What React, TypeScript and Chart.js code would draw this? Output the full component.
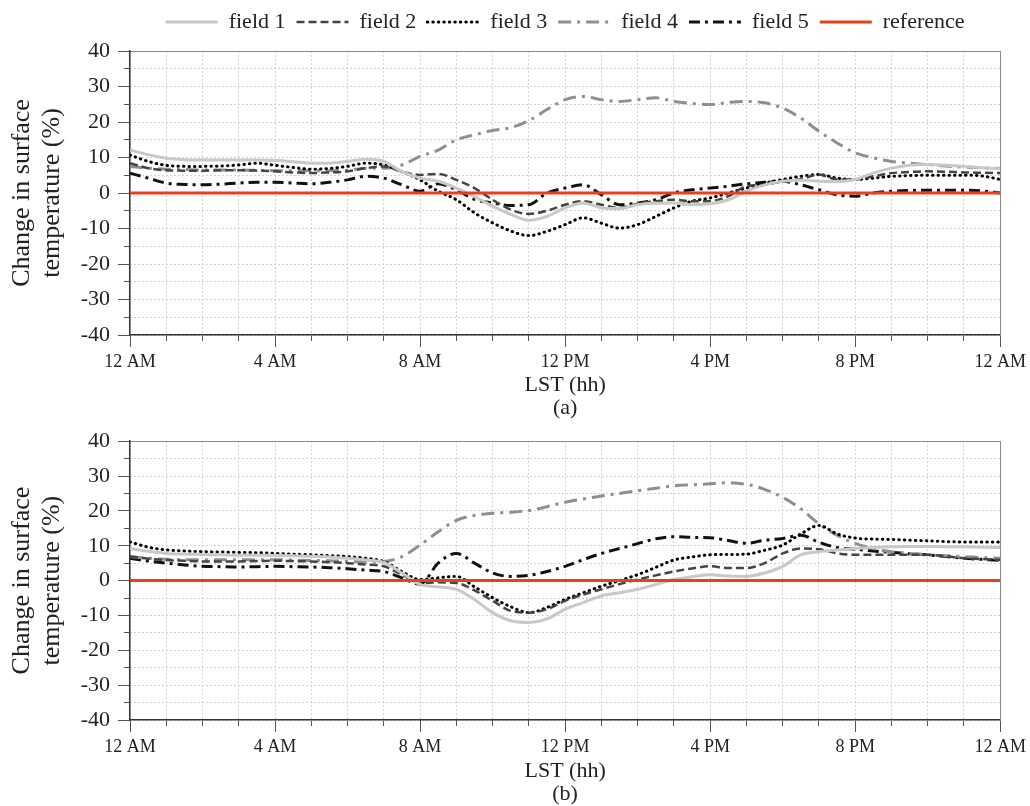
import React, { useEffect, useRef } from 'react';
import { Chart, registerables } from 'chart.js';

Chart.register(...registerables);

const FONT = "'Liberation Serif', 'Times New Roman', serif";

const hours = [0, 0.5, 1, 1.5, 2, 2.5, 3, 3.5, 4, 4.5, 5, 5.5, 6, 6.5, 7, 7.5, 8, 8.5, 9, 9.5, 10, 10.5, 11, 11.5, 12, 12.5, 13, 13.5, 14, 14.5, 15, 15.5, 16, 16.5, 17, 17.5, 18, 18.5, 19, 19.5, 20, 20.5, 21, 21.5, 22, 22.5, 23, 23.5, 24];
const xTickLabels = ['12 AM', '4 AM', '8 AM', '12 PM', '4 PM', '8 PM', '12 AM'];
const seriesNames = ['field 1', 'field 2', 'field 3', 'field 4', 'field 5', 'reference'];
const panelLabels = ['(a)', '(b)'];
const xTitle = 'LST (hh)';
const yTitle = ['Change in surface', 'temperature (%)'];

// Panel (a)
const field1A = [12.1, 10.8, 9.8, 9.4, 9.3, 9.3, 9.3, 9.3, 9.2, 8.8, 8.4, 8.4, 8.9, 9.5, 8.9, 6.0, 4.2, 3.3, 1.4, -1.0, -3.7, -6.0, -7.7, -6.6, -4.2, -2.8, -4.2, -4.4, -3.3, -2.9, -2.8, -3.3, -3.0, -1.9, 0.5, 2.3, 3.3, 3.6, 3.3, 3.2, 3.8, 5.6, 7.0, 7.8, 8.0, 7.8, 7.5, 7.1, 6.8];
const field2A = [8.4, 7.0, 6.4, 6.3, 6.3, 6.4, 6.4, 6.3, 6.1, 5.8, 5.6, 5.8, 6.1, 7.0, 7.5, 6.0, 5.1, 5.4, 3.7, 1.4, -1.9, -4.7, -5.9, -5.0, -3.3, -2.3, -3.3, -4.2, -3.0, -2.3, -1.9, -2.3, -2.3, -0.9, 1.9, 2.3, 3.3, 3.9, 5.2, 3.8, 3.8, 4.7, 5.6, 5.9, 6.1, 6.0, 5.8, 5.7, 5.6];
const field3A = [10.7, 8.9, 7.8, 7.5, 7.5, 7.6, 7.9, 8.4, 7.8, 7.2, 6.7, 6.9, 7.5, 8.4, 7.9, 6.0, 3.7, 0.5, -1.9, -5.6, -8.4, -10.7, -12.0, -10.8, -8.9, -7.0, -8.5, -9.9, -8.9, -6.6, -4.2, -2.3, -1.4, 0.0, 1.4, 2.8, 3.8, 4.7, 5.2, 4.2, 3.8, 4.2, 4.7, 4.9, 5.0, 5.0, 5.0, 4.8, 3.8];
const field4A = [7.5, 7.0, 6.7, 6.6, 6.5, 6.5, 6.5, 6.4, 6.3, 6.3, 6.3, 6.3, 6.4, 7.0, 7.0, 7.9, 10.3, 12.1, 15.0, 16.4, 17.6, 18.4, 20.4, 23.5, 26.3, 27.2, 26.3, 25.8, 26.3, 26.8, 25.8, 25.2, 24.9, 25.5, 25.8, 25.4, 23.9, 21.1, 17.4, 14.1, 11.3, 9.9, 8.9, 8.4, 8.0, 7.6, 7.3, 7.1, 6.9];
const field5A = [5.6, 4.2, 2.8, 2.4, 2.3, 2.5, 2.8, 3.0, 3.0, 2.8, 2.6, 3.0, 3.7, 4.7, 4.2, 2.3, 0.5, 2.6, 0.9, -1.8, -2.8, -3.5, -3.3, 0.0, 1.4, 2.3, -0.5, -3.3, -2.8, -1.9, 0.0, 0.9, 1.4, 1.9, 2.6, 3.0, 3.3, 2.3, 0.9, -0.5, -0.9, 0.0, 0.5, 0.7, 0.8, 0.8, 0.8, 0.6, 0.0];

// Panel (b)
const field1B = [9.2, 8.4, 7.8, 7.6, 7.5, 7.4, 7.3, 7.3, 7.2, 7.1, 7.0, 6.8, 6.4, 5.9, 5.2, 2.2, -1.1, -1.8, -2.5, -5.4, -9.2, -11.5, -12.0, -11.0, -8.2, -6.3, -4.4, -3.5, -2.5, -1.1, 0.3, 1.1, 1.7, 1.3, 1.2, 2.2, 4.1, 7.4, 8.3, 8.8, 9.2, 9.5, 9.7, 9.8, 9.8, 9.7, 9.7, 9.6, 9.5];
const field2B = [6.9, 6.3, 5.9, 5.7, 5.5, 5.5, 5.5, 5.6, 5.7, 5.6, 5.5, 5.3, 5.0, 4.6, 4.1, 1.7, -0.7, -0.5, -0.7, -2.8, -5.8, -8.7, -9.2, -8.2, -5.8, -4.0, -2.5, -1.0, 0.3, 1.5, 2.6, 3.5, 4.1, 3.6, 3.6, 5.0, 7.8, 9.2, 9.0, 7.8, 7.4, 7.4, 7.4, 7.4, 7.4, 7.0, 6.4, 6.2, 5.9];
const field3B = [11.1, 9.6, 8.8, 8.5, 8.3, 8.2, 8.1, 8.0, 7.8, 7.6, 7.4, 7.2, 6.9, 6.4, 5.5, 2.6, 0.3, 0.8, 1.2, -1.8, -4.9, -7.5, -9.2, -7.7, -5.4, -3.5, -1.6, 0.0, 1.7, 3.8, 5.9, 6.8, 7.4, 7.5, 7.6, 8.7, 10.2, 13.4, 15.8, 13.4, 12.2, 11.9, 11.8, 11.6, 11.4, 11.2, 11.1, 11.1, 11.1];
const field4B = [6.9, 6.4, 6.1, 6.0, 6.0, 6.0, 6.0, 6.0, 6.0, 5.9, 5.8, 5.7, 5.5, 5.4, 5.5, 6.9, 10.2, 14.0, 17.3, 18.7, 19.3, 19.6, 20.1, 21.2, 22.5, 23.4, 24.3, 25.0, 25.8, 26.5, 27.2, 27.5, 27.8, 28.1, 27.6, 26.2, 23.9, 20.6, 16.3, 13.0, 10.7, 9.2, 8.3, 7.8, 7.4, 7.1, 6.9, 6.6, 6.4];
const field5B = [6.4, 5.6, 5.0, 4.5, 4.1, 4.0, 3.9, 4.0, 4.1, 4.0, 3.9, 3.7, 3.4, 3.0, 2.6, 0.8, -1.0, 5.0, 7.8, 5.0, 2.2, 1.2, 1.5, 2.6, 4.1, 6.0, 7.8, 9.2, 10.6, 12.0, 12.6, 12.4, 12.3, 11.5, 10.7, 11.6, 12.1, 13.0, 11.0, 9.5, 9.0, 8.5, 8.1, 7.7, 7.4, 6.9, 6.4, 6.1, 5.8];

const refHours = [0, 24];
const refValues = [0, 0];

const lineStyles = [
  { color: '#c8c8c8', width: 3, dash: [], cap: 'butt' },
  { color: '#444444', width: 2.5, dash: [8, 4], cap: 'butt' },
  { color: '#000000', width: 3, dash: [0.5, 5], cap: 'round' },
  { color: '#8f8f8f', width: 3, dash: [13, 6, 3, 6], cap: 'butt' },
  { color: '#111111', width: 3, dash: [11, 5, 3, 5], cap: 'butt' },
  { color: '#e8401c', width: 3, dash: [], cap: 'butt' },
];

const centerLegend = {
  id: 'centerLegend',
  afterLayout(chart: any) {
    const l = chart.legend;
    if (!l || !l.options.display) return;
    const d = (chart.chartArea.left + chart.chartArea.right) / 2 - (l.left + l.right) / 2;
    l.left += d;
    l.right += d;
  },
};

function legendLabels(chart: any) {
  return chart.data.datasets.map((ds: any, i: number) => ({
    text: ds.label,
    fillStyle: ds.borderColor,
    strokeStyle: ds.borderColor,
    fontColor: '#222',
    lineWidth: ds.borderWidth,
    lineDash: ds.borderDash,
    lineDashOffset: 0,
    lineCap: ds.borderCapStyle,
    lineJoin: 'miter',
    pointStyle: 'line',
    rotation: 0,
    hidden: false,
    datasetIndex: i,
  }));
}

function buildConfig(series: number[][], panel: string, showLegend: boolean, xAxisHeight: number, topAxisHeight: number, topPad: number) {
  const datasets = seriesNames.map((name, i) => {
    const xs = i === 5 ? refHours : hours;
    const ys = i === 5 ? refValues : series[i];
    const st = lineStyles[i];
    return {
      label: name,
      data: xs.map((h, k) => ({ x: h, y: ys[k] })),
      borderColor: st.color,
      backgroundColor: st.color,
      borderWidth: st.width,
      borderDash: st.dash,
      borderCapStyle: st.cap,
      pointRadius: 0,
      pointHoverRadius: 0,
      fill: false,
      cubicInterpolationMode: 'monotone',
      xAxisID: 'x',
      yAxisID: 'y',
      order: i === 5 ? -1 : i,
    };
  });
  return {
    type: 'line',
    data: { datasets },
    plugins: showLegend ? [centerLegend] : [],
    options: {
      responsive: false,
      animation: false,
      events: [],
      layout: { padding: { top: topPad, right: 27, left: 0, bottom: 0 } },
      plugins: {
        legend: {
          display: showLegend,
          position: 'top',
          labels: {
            usePointStyle: true,
            pointStyle: 'line',
            pointStyleWidth: 52,
            padding: 11,
            color: '#222',
            font: { family: FONT, size: 22 },
            generateLabels: legendLabels,
          },
        },
        tooltip: { enabled: false },
      },
      scales: {
        x: {
          type: 'linear', position: 'bottom', min: 0, max: 24, weight: 1,
          afterFit: (s: any) => { s.height = xAxisHeight; },
          ticks: {
            stepSize: 4, autoSkip: false, maxRotation: 0, padding: 4, color: '#222',
            font: { family: FONT, size: 18 },
            callback: (v: any) => xTickLabels[Math.round(Number(v) / 4)] ?? '',
          },
          grid: { drawOnChartArea: false, drawTicks: true, tickLength: 12, tickColor: '#555', tickWidth: 1 },
          border: { display: true, color: '#333', width: 1.5 },
          title: { display: true, text: [xTitle, panel], color: '#222', font: { family: FONT, size: 22, lineHeight: 1.05 }, padding: 0 },
        },
        xm: {
          type: 'linear', position: 'bottom', min: 0, max: 24, weight: 0,
          afterFit: (s: any) => { s.height = 0; },
          ticks: { display: false, stepSize: 1 },
          grid: { color: '#d2d2d2', lineWidth: 1, tickLength: 6, tickColor: '#555', tickWidth: 1 },
          border: { display: false, dash: [2, 2] },
        },
        xt: {
          type: 'linear', position: 'top', min: 0, max: 24,
          afterFit: (s: any) => { s.height = topAxisHeight; },
          ticks: { display: false },
          grid: { drawOnChartArea: false, drawTicks: false },
          border: { display: true, color: '#8a8a8a', width: 1 },
        },
        y: {
          type: 'linear', position: 'left', min: -40, max: 40, weight: 1,
          afterFit: (s: any) => { s.width = 130; },
          ticks: { stepSize: 10, padding: 8, color: '#222', font: { family: FONT, size: 22 } },
          grid: { drawOnChartArea: false, tickLength: 12, tickColor: '#555', tickWidth: 1 },
          border: { display: true, color: '#333', width: 1.5 },
          title: { display: true, text: yTitle, color: '#222', font: { family: FONT, size: 26, lineHeight: 1.15 }, padding: { top: 7, bottom: 0 } },
        },
        ym: {
          type: 'linear', position: 'left', min: -40, max: 40, weight: 0,
          afterFit: (s: any) => { s.width = 0; },
          ticks: { display: false, stepSize: 5 },
          grid: { color: '#d2d2d2', lineWidth: 1, tickLength: 6, tickColor: '#555', tickWidth: 1 },
          border: { display: false, dash: [2, 2] },
        },
        yr: {
          type: 'linear', position: 'right', min: -40, max: 40,
          afterFit: (s: any) => { s.width = 0; },
          ticks: { display: false },
          grid: { drawOnChartArea: false, drawTicks: false },
          border: { display: true, color: '#8a8a8a', width: 1 },
        },
      },
    },
  } as any;
}

export default function App() {
  const topRef = useRef<HTMLCanvasElement | null>(null);
  const botRef = useRef<HTMLCanvasElement | null>(null);

  useEffect(() => {
    const c1 = new Chart(topRef.current as HTMLCanvasElement, buildConfig([field1A, field2A, field3A, field4A, field5A], panelLabels[0], true, 85, 8, 0));
    const c2 = new Chart(botRef.current as HTMLCanvasElement, buildConfig([field1B, field2B, field3B, field4B, field5B], panelLabels[1], false, 86, 0, 16));
    return () => { c1.destroy(); c2.destroy(); };
  }, []);

  return (
    <div style={{ position: 'absolute', left: 0, top: 0, width: 1030, height: 806, background: '#fff' }}>
      <canvas ref={topRef} width={1030} height={420} style={{ position: 'absolute', left: 0, top: 0, display: 'block' }} />
      <canvas ref={botRef} width={1030} height={386} style={{ position: 'absolute', left: 0, top: 420, display: 'block' }} />
    </div>
  );
}
